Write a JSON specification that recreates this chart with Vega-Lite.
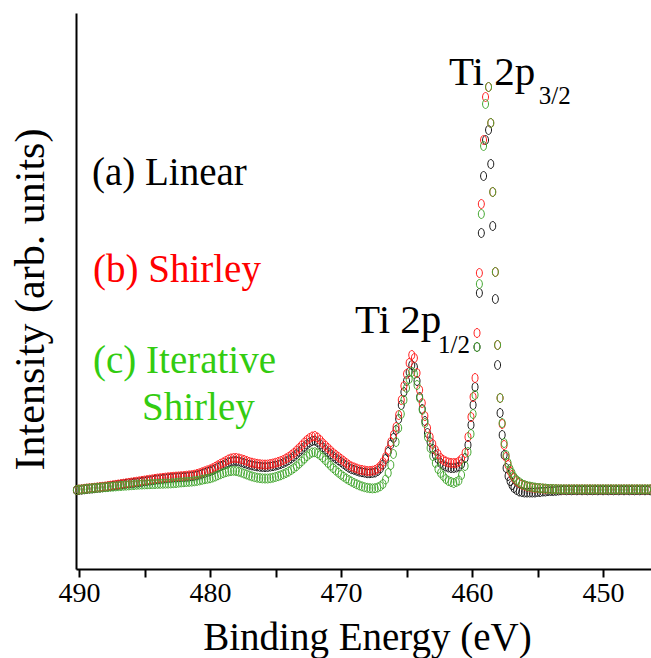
{
"$schema": "https://vega.github.io/schema/vega-lite/v6.json",
"width": 575, "height": 556,
"autosize": {"type": "none"},
"padding": {"left": 76, "top": 13, "right": 0, "bottom": 89},
"background": "white",
"config": {"view": {"stroke": null}, "axis": {"grid": false, "labelFont": "Liberation Serif", "titleFont": "Liberation Serif"}, "font": "Liberation Serif"},
"encoding": {
  "x": {"field": "E", "type": "quantitative",
    "scale": {"domain": [446.34, 490.23], "reverse": true, "nice": false, "zero": false},
    "axis": {"values": [450,455,460,465,470,475,480,485,490],
      "labelExpr": "datum.value % 10 === 0 ? datum.label : ''",
      "labelFlush": false, "labelOverlap": false, "tickSize": 8, "tickWidth": 2, "tickColor": "black",
      "domainColor": "black", "domainWidth": 2, "labelFont": "Liberation Serif", "labelFontSize": 28,
      "labelColor": "black", "labelPadding": 2, "title": "Binding Energy (eV)", "titleFont": "Liberation Serif",
      "titleFontSize": 39, "titleFontWeight": "normal", "titleColor": "black", "titleX": 291, "titleY": 80,
      "titleBaseline": "alphabetic", "titleAlign": "center", "grid": false}},
  "y": {"field": "v", "type": "quantitative",
    "scale": {"domain": [-79, 477], "nice": false, "zero": false},
    "axis": {"ticks": false, "labels": false, "domainColor": "black", "domainWidth": 2,
      "title": "Intensity (arb. units)", "titleFont": "Liberation Serif", "titleFontSize": 42,
      "titleFontWeight": "normal", "titleColor": "black", "titleAngle": -90, "titleX": -33, "titleY": 286,
      "titleBaseline": "alphabetic", "titleAlign": "center", "grid": false}}
},
"layer": [
{
"data": {"values": [
{"E":490.2,"a":-0.3,"b":0,"c":0},
{"E":490.0,"a":0,"b":0.5,"c":0.3},
{"E":489.8,"a":0.3,"b":0.8,"c":0.6},
{"E":489.6,"a":0.7,"b":1.2,"c":0.9},
{"E":489.4,"a":1,"b":1.5,"c":1.2},
{"E":489.2,"a":1.3,"b":1.8,"c":1.5},
{"E":489.0,"a":1.5,"b":2,"c":1.8},
{"E":488.8,"a":1.8,"b":2.3,"c":2},
{"E":488.6,"a":2.1,"b":2.6,"c":2.2},
{"E":488.4,"a":2.4,"b":2.9,"c":2.4},
{"E":488.2,"a":2.7,"b":3.2,"c":2.6},
{"E":488.0,"a":3,"b":3.5,"c":2.8},
{"E":487.8,"a":3.4,"b":3.9,"c":3},
{"E":487.6,"a":3.8,"b":4.3,"c":3.2},
{"E":487.4,"a":4.2,"b":4.7,"c":3.4},
{"E":487.2,"a":4.6,"b":5.1,"c":3.6},
{"E":487.0,"a":5,"b":5.5,"c":3.8},
{"E":486.8,"a":5.4,"b":5.9,"c":4},
{"E":486.6,"a":5.8,"b":6.3,"c":4.2},
{"E":486.4,"a":6.2,"b":6.7,"c":4.4},
{"E":486.2,"a":6.6,"b":7.1,"c":4.6},
{"E":486.0,"a":6.8,"b":7.5,"c":4.8},
{"E":485.8,"a":7,"b":7.9,"c":5},
{"E":485.6,"a":7.3,"b":8.3,"c":5.2},
{"E":485.4,"a":7.7,"b":8.7,"c":5.4},
{"E":485.2,"a":8.1,"b":9.1,"c":5.5},
{"E":485.0,"a":8.5,"b":9.5,"c":5.6},
{"E":484.8,"a":8.9,"b":9.9,"c":5.7},
{"E":484.6,"a":9.3,"b":10.3,"c":5.8},
{"E":484.4,"a":9.7,"b":10.7,"c":5.9},
{"E":484.2,"a":10.1,"b":11.1,"c":6},
{"E":484.0,"a":10.5,"b":11.5,"c":6.1},
{"E":483.8,"a":10.8,"b":11.8,"c":6.2},
{"E":483.6,"a":11.1,"b":12.1,"c":6.3},
{"E":483.4,"a":11.4,"b":12.4,"c":6.4},
{"E":483.2,"a":11.7,"b":12.7,"c":6.5},
{"E":483.0,"a":12,"b":13,"c":6.6},
{"E":482.8,"a":12.2,"b":13.2,"c":6.8},
{"E":482.6,"a":12.4,"b":13.4,"c":7},
{"E":482.4,"a":12.6,"b":13.6,"c":7.3},
{"E":482.2,"a":12.8,"b":13.8,"c":7.6},
{"E":482.0,"a":12.9,"b":14,"c":7.8},
{"E":481.8,"a":13.1,"b":14.3,"c":8},
{"E":481.6,"a":13.4,"b":14.6,"c":8.2},
{"E":481.4,"a":13.7,"b":14.9,"c":8.4},
{"E":481.2,"a":14,"b":15.3,"c":8.7},
{"E":481.0,"a":14.6,"b":16,"c":9.1},
{"E":480.8,"a":15.3,"b":16.8,"c":9.6},
{"E":480.6,"a":16.2,"b":17.7,"c":10.2},
{"E":480.4,"a":17.1,"b":18.7,"c":10.8},
{"E":480.2,"a":18,"b":19.6,"c":11.2},
{"E":480.0,"a":18.8,"b":20.5,"c":11.7},
{"E":479.8,"a":19.9,"b":21.8,"c":12.5},
{"E":479.6,"a":21.1,"b":23.2,"c":13.5},
{"E":479.4,"a":22.4,"b":24.7,"c":14.7},
{"E":479.2,"a":23.7,"b":26.2,"c":15.8},
{"E":479.0,"a":24.8,"b":27.5,"c":16.8},
{"E":478.8,"a":26.1,"b":29,"c":17.8},
{"E":478.6,"a":27.5,"b":30.5,"c":18.5},
{"E":478.4,"a":28.5,"b":31.5,"c":19},
{"E":478.2,"a":29,"b":32,"c":19.2},
{"E":478.0,"a":29,"b":32,"c":19},
{"E":477.8,"a":28.5,"b":31.5,"c":18.3},
{"E":477.6,"a":27.8,"b":30.8,"c":17.5},
{"E":477.4,"a":27,"b":30,"c":16.5},
{"E":477.2,"a":26.1,"b":29,"c":15.5},
{"E":477.0,"a":25.2,"b":28,"c":14.5},
{"E":476.8,"a":24.6,"b":27.3,"c":13.6},
{"E":476.6,"a":24,"b":26.7,"c":12.9},
{"E":476.4,"a":23.6,"b":26.2,"c":12.3},
{"E":476.2,"a":23.2,"b":25.8,"c":11.9},
{"E":476.0,"a":23,"b":25.5,"c":11.6},
{"E":475.8,"a":22.9,"b":25.4,"c":11.5},
{"E":475.6,"a":23,"b":25.5,"c":11.5},
{"E":475.4,"a":23.4,"b":26,"c":11.8},
{"E":475.2,"a":23.9,"b":26.5,"c":12.3},
{"E":475.0,"a":24.4,"b":27.2,"c":13},
{"E":474.8,"a":25.1,"b":28,"c":13.8},
{"E":474.6,"a":26,"b":29,"c":14.7},
{"E":474.4,"a":27,"b":30,"c":15.8},
{"E":474.2,"a":28.4,"b":31.5,"c":17},
{"E":474.0,"a":29.8,"b":33,"c":18.4},
{"E":473.8,"a":31.6,"b":35,"c":20},
{"E":473.6,"a":33.5,"b":37,"c":21.8},
{"E":473.4,"a":35.8,"b":39.5,"c":23.8},
{"E":473.2,"a":38.2,"b":42,"c":26.2},
{"E":473.0,"a":40.5,"b":44.7,"c":28.6},
{"E":472.8,"a":43.1,"b":47.5,"c":31.2},
{"E":472.6,"a":45.5,"b":50,"c":33.8},
{"E":472.4,"a":47.5,"b":52,"c":36},
{"E":472.2,"a":49,"b":53.5,"c":37.5},
{"E":472.0,"a":49.5,"b":54,"c":37.8},
{"E":471.8,"a":48,"b":52.5,"c":36.7},
{"E":471.6,"a":45.5,"b":50,"c":34.8},
{"E":471.4,"a":42.7,"b":47,"c":32.5},
{"E":471.2,"a":40.3,"b":44.5,"c":29.8},
{"E":471.0,"a":38,"b":42,"c":27},
{"E":470.8,"a":35.8,"b":39.5,"c":24.3},
{"E":470.6,"a":33.5,"b":37,"c":21.8},
{"E":470.4,"a":31.6,"b":35,"c":19.5},
{"E":470.2,"a":29.7,"b":33,"c":17.3},
{"E":470.0,"a":28,"b":31,"c":15.2},
{"E":469.8,"a":26,"b":29,"c":13.3},
{"E":469.6,"a":24.1,"b":27,"c":11.5},
{"E":469.4,"a":22.3,"b":25,"c":9.9},
{"E":469.2,"a":20.9,"b":23.5,"c":8.4},
{"E":469.0,"a":20.2,"b":22.5,"c":7},
{"E":468.8,"a":19.2,"b":21.5,"c":5.7},
{"E":468.6,"a":18.3,"b":20.5,"c":4.6},
{"E":468.4,"a":17.8,"b":20,"c":3.6},
{"E":468.2,"a":17.3,"b":19.5,"c":2.8},
{"E":468.0,"a":16.8,"b":19,"c":2.2},
{"E":467.8,"a":16.8,"b":19,"c":1.8},
{"E":467.6,"a":17,"b":19.3,"c":1.6},
{"E":467.4,"a":17.5,"b":20,"c":1.8},
{"E":467.2,"a":19,"b":21.5,"c":2.5},
{"E":467.0,"a":21.5,"b":24,"c":3.8},
{"E":466.8,"a":25.5,"b":28,"c":6},
{"E":466.6,"a":31,"b":33,"c":10.5},
{"E":466.4,"a":38,"b":40,"c":17},
{"E":466.2,"a":45.5,"b":48,"c":25},
{"E":466.0,"a":52,"b":55,"c":36},
{"E":465.8,"a":60,"b":63,"c":48},
{"E":465.6,"a":71,"b":75,"c":62},
{"E":465.4,"a":85,"b":90,"c":76},
{"E":465.2,"a":98,"b":104,"c":90},
{"E":465.0,"a":109,"b":116,"c":102},
{"E":464.8,"a":118,"b":127,"c":111},
{"E":464.6,"a":125,"b":135,"c":118},
{"E":464.4,"a":123,"b":132,"c":116},
{"E":464.2,"a":109,"b":117,"c":105},
{"E":464.0,"a":93,"b":100,"c":92},
{"E":463.8,"a":81,"b":87,"c":80},
{"E":463.6,"a":69,"b":74,"c":67},
{"E":463.4,"a":57,"b":62,"c":53},
{"E":463.2,"a":48,"b":53,"c":42},
{"E":463.0,"a":41,"b":46,"c":34},
{"E":462.8,"a":35,"b":40,"c":27},
{"E":462.6,"a":31,"b":36,"c":21},
{"E":462.4,"a":27,"b":32,"c":17},
{"E":462.2,"a":25,"b":30,"c":14},
{"E":462.0,"a":23.5,"b":28.5,"c":11},
{"E":461.8,"a":22.5,"b":27.5,"c":9},
{"E":461.6,"a":22,"b":27,"c":8},
{"E":461.4,"a":22,"b":27,"c":7},
{"E":461.2,"a":22.5,"b":27,"c":8},
{"E":461.0,"a":23.5,"b":28.5,"c":9.5},
{"E":460.8,"a":26,"b":31,"c":15},
{"E":460.53,"a":32,"b":37,"c":24},
{"E":460.31,"a":45,"b":53,"c":38},
{"E":460.08,"a":65,"b":73,"c":56},
{"E":459.92,"a":85,"b":93,"c":76},
{"E":459.77,"a":103,"b":112,"c":95},
{"E":459.62,"a":143,"b":157,"c":143},
{"E":459.44,"a":197,"b":217,"c":206},
{"E":459.29,"a":257,"b":286,"c":276},
{"E":459.12,"a":314,"b":350,"c":344},
{"E":458.97,"a":350,"b":393,"c":386},
{"E":458.74,"a":360,"b":403,"c":403},
{"E":458.57,"a":326,"b":367,"c":367},
{"E":458.42,"a":264,"b":298,"c":298},
{"E":458.22,"a":191,"b":218,"c":218},
{"E":458.05,"a":125,"b":145,"c":145},
{"E":457.86,"a":77,"b":92,"c":92},
{"E":457.70,"a":55,"b":66,"c":67},
{"E":457.55,"a":35,"b":45,"c":47},
{"E":457.40,"a":22,"b":33,"c":35},
{"E":457.25,"a":14,"b":25,"c":27},
{"E":457.10,"a":9,"b":19,"c":21},
{"E":456.95,"a":5,"b":15,"c":17},
{"E":456.80,"a":2,"b":12,"c":13},
{"E":456.6,"a":0,"b":9,"c":10},
{"E":456.4,"a":-1.5,"b":7,"c":8},
{"E":456.2,"a":-2,"b":5.5,"c":6},
{"E":456.0,"a":-2.5,"b":4.5,"c":5},
{"E":455.8,"a":-2.5,"b":3.5,"c":4},
{"E":455.6,"a":-2.5,"b":3,"c":3.5},
{"E":455.4,"a":-2.5,"b":2.5,"c":3},
{"E":455.2,"a":-2.5,"b":2,"c":2.5},
{"E":455.0,"a":-2,"b":2,"c":2},
{"E":454.8,"a":-2,"b":1.5,"c":2},
{"E":454.6,"a":-1.5,"b":1.5,"c":1.5},
{"E":454.4,"a":-1.5,"b":1,"c":1.5},
{"E":454.2,"a":-1,"b":1,"c":1},
{"E":454.0,"a":-1,"b":1,"c":1},
{"E":453.8,"a":-1,"b":0.8,"c":1},
{"E":453.6,"a":-0.8,"b":0.8,"c":0.8},
{"E":453.4,"a":-0.5,"b":0.7,"c":0.8},
{"E":453.2,"a":-0.3,"b":0.6,"c":0.7},
{"E":453.0,"a":0,"b":0.5,"c":0.8},
{"E":452.8,"a":-0.3,"b":0.7,"c":0.6},
{"E":452.6,"a":0,"b":0.5,"c":0.8},
{"E":452.4,"a":-0.3,"b":0.7,"c":0.6},
{"E":452.2,"a":0,"b":0.5,"c":0.8},
{"E":452.0,"a":-0.3,"b":0.7,"c":0.6},
{"E":451.8,"a":0,"b":0.5,"c":0.8},
{"E":451.6,"a":-0.3,"b":0.7,"c":0.6},
{"E":451.4,"a":0,"b":0.5,"c":0.8},
{"E":451.2,"a":-0.3,"b":0.7,"c":0.6},
{"E":451.0,"a":0,"b":0.5,"c":0.8},
{"E":450.8,"a":-0.3,"b":0.7,"c":0.6},
{"E":450.6,"a":0,"b":0.5,"c":0.8},
{"E":450.4,"a":-0.3,"b":0.7,"c":0.6},
{"E":450.2,"a":0,"b":0.5,"c":0.8},
{"E":450.0,"a":-0.3,"b":0.7,"c":0.6},
{"E":449.8,"a":0,"b":0.5,"c":0.8},
{"E":449.6,"a":-0.3,"b":0.7,"c":0.6},
{"E":449.4,"a":0,"b":0.5,"c":0.8},
{"E":449.2,"a":-0.3,"b":0.7,"c":0.6},
{"E":449.0,"a":0,"b":0.5,"c":0.8},
{"E":448.8,"a":-0.3,"b":0.7,"c":0.6},
{"E":448.6,"a":0,"b":0.5,"c":0.8},
{"E":448.4,"a":-0.3,"b":0.7,"c":0.6},
{"E":448.2,"a":0,"b":0.5,"c":0.8},
{"E":448.0,"a":-0.3,"b":0.7,"c":0.6},
{"E":447.8,"a":0,"b":0.5,"c":0.8},
{"E":447.6,"a":-0.3,"b":0.7,"c":0.6},
{"E":447.4,"a":0,"b":0.5,"c":0.8},
{"E":447.2,"a":-0.3,"b":0.7,"c":0.6},
{"E":447.0,"a":0,"b":0.5,"c":0.8},
{"E":446.8,"a":-0.3,"b":0.7,"c":0.6},
{"E":446.6,"a":0,"b":0.5,"c":0.8},
{"E":446.4,"a":-0.3,"b":0.7,"c":0.6}
]},
"transform": [{"fold": ["a", "b", "c"], "as": ["s", "v"]}],
"mark": {"type": "point", "shape": "M0,-1C0.368,-1 0.667,-0.552 0.667,0C0.667,0.552 0.368,1 0,1C-0.368,1 -0.667,0.552 -0.667,0C-0.667,-0.552 -0.368,-1 0,-1Z", "filled": false, "size": 81, "strokeWidth": 1, "opacity": 1},
"encoding": {
  "color": {"field": "s", "type": "nominal", "scale": {"domain": ["a", "b", "c"], "range": ["#1a1a1a", "#ff2020", "#45a832"]}, "legend": null},
  "order": {"field": "s", "type": "ordinal"}
}
},
{
"data": {"values": [{"E": 489.01, "v": 305, "t": "(a) Linear"}]},
"mark": {"type": "text", "align": "left", "baseline": "alphabetic", "font": "Liberation Serif", "fontSize": 39, "color": "black"},
"encoding": {"text": {"field": "t"}}
},
{
"data": {"values": [{"E": 488.93, "v": 208, "t": "(b) Shirley"}]},
"mark": {"type": "text", "align": "left", "baseline": "alphabetic", "font": "Liberation Serif", "fontSize": 39, "color": "#ff0000"},
"encoding": {"text": {"field": "t"}}
},
{
"data": {"values": [{"E": 488.93, "v": 117, "t": "(c) Iterative"}, {"E": 485.19, "v": 70, "t": "Shirley"}]},
"mark": {"type": "text", "align": "left", "baseline": "alphabetic", "font": "Liberation Serif", "fontSize": 39, "color": "#33cc11"},
"encoding": {"text": {"field": "t"}}
},
{
"data": {"values": [{"E": 468.93, "v": 157, "t": "Ti 2p"}, {"E": 461.76, "v": 405, "t": "Ti 2p"}]},
"mark": {"type": "text", "align": "left", "baseline": "alphabetic", "font": "Liberation Serif", "fontSize": 41, "color": "black"},
"encoding": {"text": {"field": "t"}}
},
{
"data": {"values": [{"E": 462.6, "v": 137, "t": "1/2"}, {"E": 454.9, "v": 386, "t": "3/2"}]},
"mark": {"type": "text", "align": "left", "baseline": "alphabetic", "font": "Liberation Serif", "fontSize": 25, "color": "black"},
"encoding": {"text": {"field": "t"}}
}
]
}
